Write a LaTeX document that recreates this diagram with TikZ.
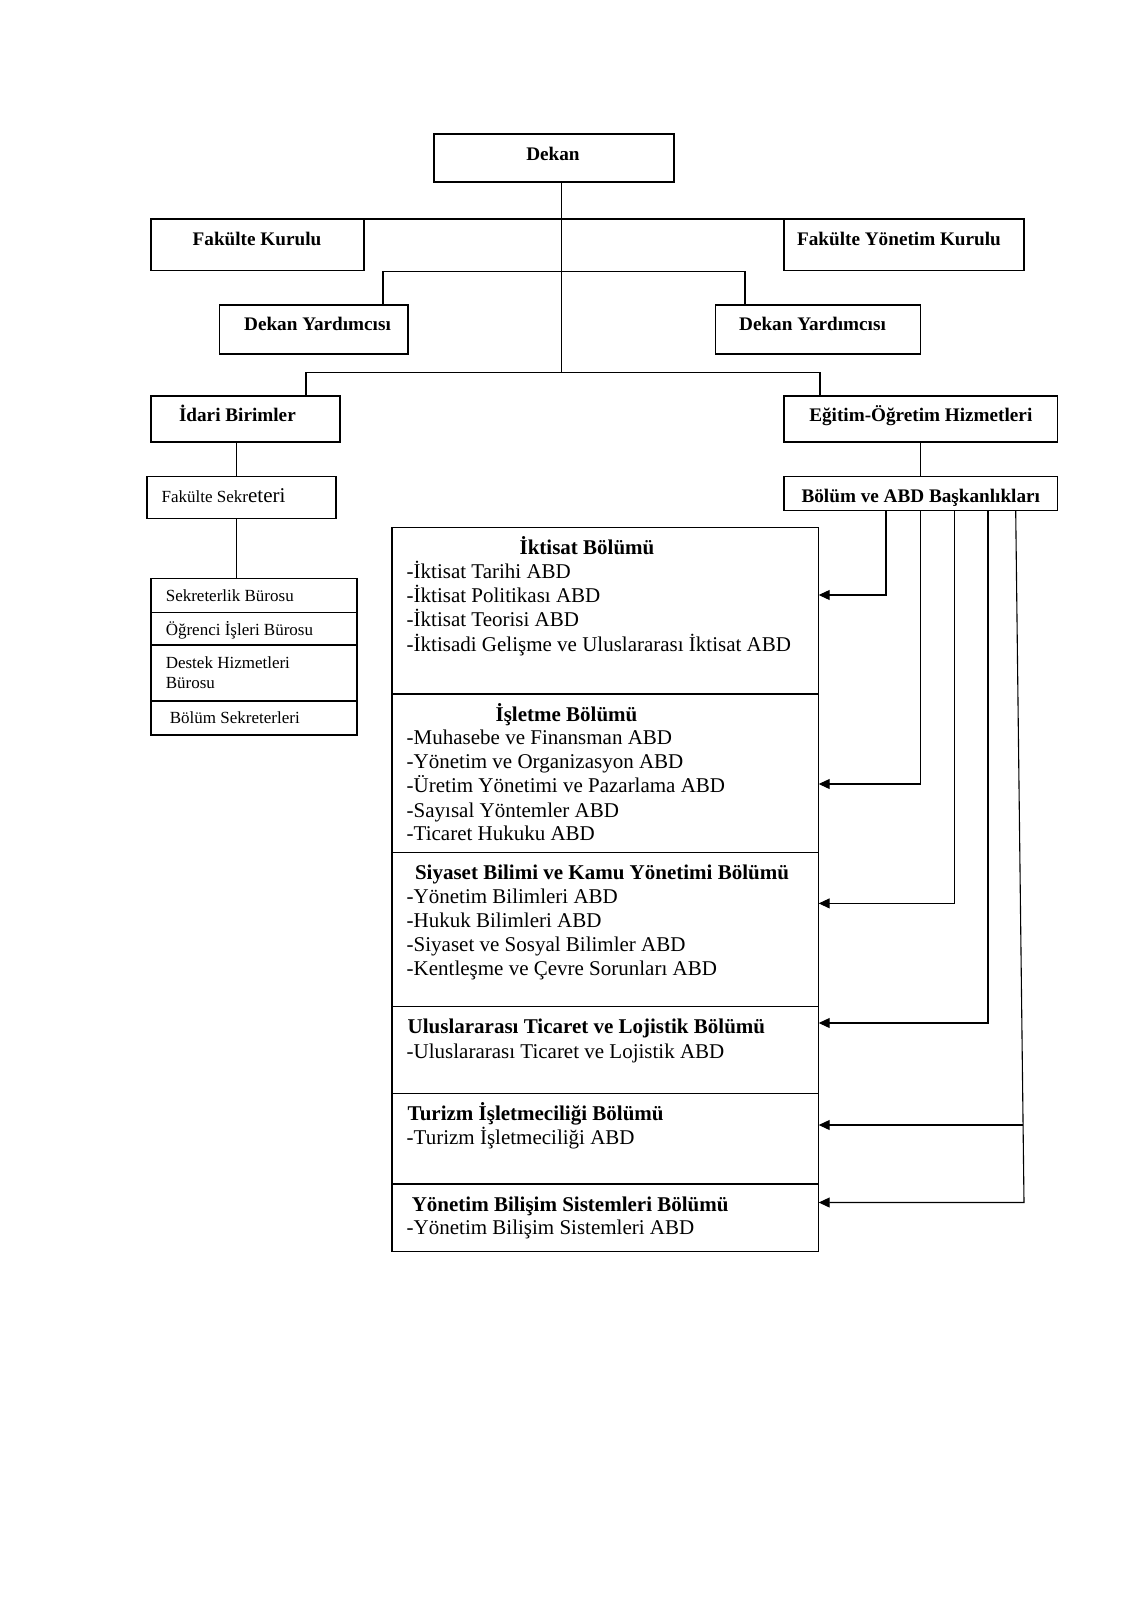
\documentclass[tikz,border=0pt]{standalone}
\usepackage{fontspec}
\setmainfont{Liberation Serif}
\usetikzlibrary{fit,arrows.meta}
\begin{document}
\begin{tikzpicture}[x=0.5pt,y=-0.5pt,
  box/.style={draw, line width=0.55pt, inner sep=0pt, fit={#1}},
  conn/.style={line width=0.55pt},
  arr/.style={line width=0.55pt, -{Triangle[length=5.5pt,width=5pt]}},
  topt/.style={font=\fontsize{9.6}{11}\selectfont\bfseries, inner sep=0pt, text height=6.6pt, text depth=0.4pt},
  smallt/.style={font=\fontsize{8.5}{9.8}\selectfont, inner sep=0pt, anchor=west, text height=6pt, text depth=0.4pt},
  smalltm/.style={font=\fontsize{8.5}{9.8}\selectfont, inner sep=0pt, anchor=west, align=left},
  headt/.style={font=\fontsize{10.5}{12}\selectfont\bfseries, inner sep=0pt, text height=7.2pt, text depth=0.4pt},
  itemt/.style={font=\fontsize{10.5}{12}\selectfont, inner sep=0pt, anchor=west, text height=7.2pt, text depth=0.4pt}]
\useasboundingbox[fill=white] (0,0) rectangle (1131,1600);

% top boxes
\node[box={(434,134) (674,182)}] (dekan) {};
\node[topt] (dekant) at (553,154) {Dekan};
\node[box={(151,219.5) (364,270.5)}] (fk) {};
\node[topt] (fkt) at (257,239) {Fakülte Kurulu};
\node[box={(784,219.5) (1024,270.5)}] (fyk) {};
\node[topt] (fykt) at (899,239) {Fakülte Yönetim Kurulu};
\node[box={(219.5,305) (408,354)}] (dyl) {};
\node[topt] (dylt) at (317.5,324.6) {Dekan Yardımcısı};
\node[box={(715.6,305) (920.8,354)}] (dyr) {};
\node[topt] (dyrt) at (812.5,324.6) {Dekan Yardımcısı};
\node[box={(151,396) (340,442)}] (idari) {};
\node[topt, anchor=west] (idarit) at (178.6,415.5) {İdari Birimler};
\node[box={(784,396) (1057.5,442)}] (egitim) {};
\node[topt] (egitimt) at (920.8,415.5) {Eğitim-Öğretim Hizmetleri};

% left branch
\node[box={(147,476.7) (336,518.6)}] (fs) {};
\node[smallt] (fst) at (161.3,497) {Fakülte Sekr{\fontsize{10.5}{12}\selectfont eteri}};
\node[box={(151,578.8) (357,612.5)}] (sb) {};
\node[smallt] (sbt) at (165.4,596) {Sekreterlik Bürosu};
\node[box={(151,612.5) (357,645)}] (oi) {};
\node[smallt] (oit) at (165.4,630) {Öğrenci İşleri Bürosu};
\node[box={(151,645) (357,701)}] (dh) {};
\node[smalltm] (dht) at (165.4,672.5) {Destek Hizmetleri\\Bürosu};
\node[box={(151,701) (357,735)}] (bs) {};
\node[smallt] (bst) at (169.5,717.6) {Bölüm Sekreterleri};

% right branch
\node[box={(784,476.7) (1057.5,510.4)}] (babd) {};
\node[topt] (babdt) at (920.8,496) {Bölüm ve ABD Başkanlıkları};

% departments
\node[box={(392,527.8) (818.7,694)}] (ikt) {};
\node[box={(392,694) (818.7,852.4)}] (isl) {};
\node[box={(392,852.4) (818.7,1006.5)}] (siy) {};
\node[box={(392,1006.5) (818.7,1093.3)}] (ult) {};
\node[box={(392,1093.3) (818.7,1184)}] (tur) {};
\node[box={(392,1184) (818.7,1251.5)}] (ybs) {};

\node[headt] (iktH) at (587,548) {İktisat Bölümü};
\node[itemt] (ikt1) at (406.3,571.6) {-İktisat Tarihi ABD};
\node[itemt] (ikt2) at (406.3,595.5) {-İktisat Politikası ABD};
\node[itemt] (ikt3) at (406.3,619.6) {-İktisat Teorisi ABD};
\node[itemt] (ikt4) at (406.3,645) {-İktisadi Gelişme ve Uluslararası İktisat ABD};

\node[headt] (islH) at (566.5,714.6) {İşletme Bölümü};
\node[itemt] (isl1) at (406.3,738) {-Muhasebe ve Finansman ABD};
\node[itemt] (isl2) at (406.3,761.5) {-Yönetim ve Organizasyon ABD};
\node[itemt] (isl3) at (406.3,786) {-Üretim Yönetimi ve Pazarlama ABD};
\node[itemt] (isl4) at (406.3,810.5) {-Sayısal Yöntemler ABD};
\node[itemt] (isl5) at (406.3,834) {-Ticaret Hukuku ABD};

\node[headt] (siyH) at (602,873) {Siyaset Bilimi ve Kamu Yönetimi Bölümü};
\node[itemt] (siy1) at (406.3,897) {-Yönetim Bilimleri ABD};
\node[itemt] (siy2) at (406.3,920.8) {-Hukuk Bilimleri ABD};
\node[itemt] (siy3) at (406.3,945) {-Siyaset ve Sosyal Bilimler ABD};
\node[itemt] (siy4) at (406.3,968.7) {-Kentleşme ve Çevre Sorunları ABD};

\node[headt, anchor=west] (ultH) at (407.3,1027) {Uluslararası Ticaret ve Lojistik Bölümü};
\node[itemt] (ult1) at (406.3,1051.4) {-Uluslararası Ticaret ve Lojistik ABD};

\node[headt, anchor=west] (turH) at (407.3,1113.7) {Turizm İşletmeciliği Bölümü};
\node[itemt] (tur1) at (406.3,1138) {-Turizm İşletmeciliği ABD};

\node[headt, anchor=west] (ybsH) at (411.4,1204.5) {Yönetim Bilişim Sistemleri Bölümü};
\node[itemt] (ybs1) at (406.3,1228) {-Yönetim Bilişim Sistemleri ABD};

% connectors top
\coordinate (t1) at (561.5,372.6);
\coordinate (h2l) at (383,271.5);
\coordinate (h2r) at (745,271.5);
\coordinate (h3l) at (306,372.6);
\coordinate (h3r) at (820,372.6);
\coordinate (v1) at (236.8,0);
\draw[conn] (dekan.south -| t1) -- (t1);
\draw[conn] (fk.north west) -- (fyk.north east);
\draw[conn] (dyl.north -| h2l) -- (h2l) -- (h2r) -- (dyr.north -| h2r);
\draw[conn] (idari.north -| h3l) -- (h3l) -- (h3r) -- (egitim.north -| h3r);
\draw[conn] (idari.south -| v1) -- (fs.north -| v1);
\draw[conn] (fs.south -| v1) -- (sb.north -| v1);
\draw[conn] (egitim.south) -- (babd.north);

% connectors to departments
\coordinate (c1) at (886,0);
\coordinate (c2) at (920.8,0);
\coordinate (c3) at (954.5,0);
\coordinate (c4) at (988,0);
\coordinate (c5) at (1015.7,0);
\coordinate (a1) at (818.7,595);
\coordinate (a2) at (818.7,784);
\coordinate (a3) at (818.7,903.4);
\coordinate (a4) at (818.7,1023);
\coordinate (a5) at (818.7,1125);
\coordinate (a6) at (818.7,1202.5);
\coordinate (b5) at (1023.1,1125);
\coordinate (b6) at (1024,1202.5);
\draw[arr] (babd.south -| c1) |- (a1);
\draw[arr] (babd.south -| c2) |- (a2);
\draw[arr] (babd.south -| c3) |- (a3);
\draw[arr] (babd.south -| c4) |- (a4);
\draw[arr] (babd.south -| c5) -- (b6) -- (a6);
\draw[arr] (b5) -- (a5);
\end{tikzpicture}
\end{document}
